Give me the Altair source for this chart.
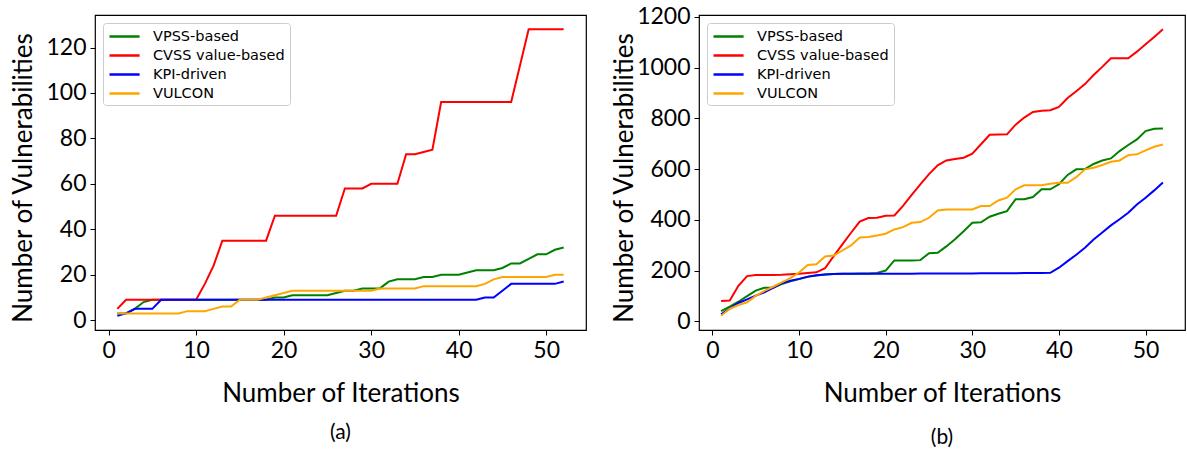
import altair as alt
import pandas as pd

iterations = list(range(1, 53))
series_names = ["VPSS-based", "CVSS value-based", "KPI-driven", "VULCON"]
series_colors = ["#008000", "#ff0000", "#0000ff", "#ffa500"]
x_ticks = [0, 10, 20, 30, 40, 50]
a_y_ticks = [0, 20, 40, 60, 80, 100, 120]
b_y_ticks = [0, 200, 400, 600, 800, 1000, 1200]

# panel (a)
a_vpss = [3, 3, 5, 8, 9, 9, 9, 9, 9, 9, 9, 9, 9, 9, 9, 9, 9, 9, 10, 10,
          11, 11, 11, 11, 11, 12, 13, 13, 14, 14, 14, 17, 18, 18, 18, 19, 19, 20, 20, 20,
          21, 22, 22, 22, 23, 25, 25, 27, 29, 29, 31, 32]
a_cvss = [5, 9, 9, 9, 9, 9, 9, 9, 9, 9, 16, 24, 35, 35, 35, 35, 35, 35, 46, 46,
          46, 46, 46, 46, 46, 46, 58, 58, 58, 60, 60, 60, 60, 73, 73, 74, 75, 96, 96, 96,
          96, 96, 96, 96, 96, 96, 112, 128, 128, 128, 128, 128]
a_kpi = [2, 3, 5, 5, 5, 9, 9, 9, 9, 9, 9, 9, 9, 9, 9, 9, 9, 9, 9, 9,
         9, 9, 9, 9, 9, 9, 9, 9, 9, 9, 9, 9, 9, 9, 9, 9, 9, 9, 9, 9,
         9, 9, 10, 10, 13, 16, 16, 16, 16, 16, 16, 17]
a_vulcon = [3, 3, 3, 3, 3, 3, 3, 3, 4, 4, 4, 5, 6, 6, 9, 9, 9, 10, 11, 12,
            13, 13, 13, 13, 13, 13, 13, 13, 13, 13, 14, 14, 14, 14, 14, 15, 15, 15, 15, 15,
            15, 15, 16, 18, 19, 19, 19, 19, 19, 19, 20, 20]

# panel (b)
b_vpss = [40, 58, 77, 99, 121, 132, 132, 147, 158, 166, 175, 180, 184, 186, 187, 187, 188, 188, 190, 200,
          240, 240, 240, 241, 268, 270, 295, 323, 355, 388, 390, 412, 424, 434, 481, 481, 490, 520, 520, 540,
          577, 599, 600, 620, 634, 642, 671, 695, 717, 750, 759, 760]
b_cvss = [80, 82, 140, 178, 182, 182, 182, 183, 185, 187, 190, 193, 209, 257, 303, 349, 393, 407, 408, 416,
          417, 455, 498, 540, 580, 615, 634, 640, 645, 661, 698, 735, 736, 737, 775, 803, 825, 830, 832, 845,
          880, 907, 935, 971, 1003, 1037, 1037, 1037, 1063, 1092, 1121, 1151]
b_kpi = [27, 50, 72, 86, 101, 114, 132, 150, 160, 167, 176, 181, 184, 186, 187, 187, 187, 187, 187, 187,
         187, 187, 187, 188, 188, 188, 188, 188, 188, 188, 189, 189, 189, 189, 189, 190, 190, 190, 191, 211,
         237, 262, 290, 322, 350, 378, 402, 428, 460, 487, 516, 547]
b_vulcon = [22, 49, 64, 75, 100, 120, 136, 153, 170, 192, 222, 225, 255, 259, 279, 299, 330, 332, 338, 345,
            362, 371, 388, 391, 408, 437, 441, 441, 441, 441, 454, 454, 476, 487, 520, 536, 536, 536, 542, 546,
            546, 568, 599, 605, 616, 629, 634, 655, 658, 674, 688, 697]

TICK_FONT = "Lato"


def long_df(series):
    rows = []
    for name, vals in zip(series_names, series):
        for it, v in zip(iterations, vals):
            rows.append({"Iteration": it, "Count": v, "Method": name})
    return pd.DataFrame(rows)


def panel(series, ydomain, yticks, caption, width, height, title_x, cap_offset):
    df = long_df(series)
    chart = alt.Chart(df).mark_line(strokeWidth=2, clip=True).encode(
        x=alt.X("Iteration:Q",
                scale=alt.Scale(domain=[-1.55, 54.55], nice=False, zero=False),
                axis=alt.Axis(values=x_ticks, title="Number of Iterations", format="d",
                              titleY=71, titleBaseline="alphabetic")),
        y=alt.Y("Count:Q",
                scale=alt.Scale(domain=ydomain, nice=False, zero=False),
                axis=alt.Axis(values=yticks, title="Number of Vulnerabilities", format="d",
                              titleX=title_x, titleY=height / 2 + 5,
                              titleBaseline="alphabetic")),
        color=alt.Color("Method:N",
                        scale=alt.Scale(domain=series_names, range=series_colors),
                        sort=series_names,
                        legend=alt.Legend(orient="top-left", offset=8, title=None,
                                          labelFont="DejaVu Sans", labelFontSize=14.5,
                                          labelColor="black",
                                          symbolType="M-1,0H3.3", symbolSize=196,
                                          symbolStrokeWidth=2.5, labelOffset=28,
                                          padding=5, rowPadding=4,
                                          fillColor="rgba(255,255,255,0.8)",
                                          strokeColor="#cccccc", cornerRadius=3)),
        order=alt.Order("Iteration:Q"),
    ).properties(
        width=width, height=height,
        title=alt.TitleParams(caption, orient="bottom", anchor="middle",
                              font=TICK_FONT, fontSize=21, fontWeight="normal",
                              color="black", offset=cap_offset),
    )
    return chart


left = panel([a_vpss, a_cvss, a_kpi, a_vulcon], [-4.3, 134.3], a_y_ticks, "(a)", 491, 315, -64, 16)
right = panel([b_vpss, b_cvss, b_kpi, b_vulcon], [-34.5, 1207.5], b_y_ticks, "(b)", 486, 315, -67, 21)

chart = alt.hconcat(left, right, spacing=23).resolve_scale(
    color="independent"
).properties(
    padding={"left": 9, "top": 5, "right": 0, "bottom": 0},
    background="white",
).configure_view(
    stroke="black", strokeWidth=1.2
).configure_axis(
    grid=False, domain=False,
    labelFont=TICK_FONT, labelFontSize=23, labelColor="black", labelPadding=4,
    tickColor="black", tickSize=5, tickWidth=1,
    titleFont=TICK_FONT, titleFontSize=26, titleFontWeight="normal", titleColor="black",
)

chart.save("out.html", embed_options={"renderer": "svg", "actions": False})
